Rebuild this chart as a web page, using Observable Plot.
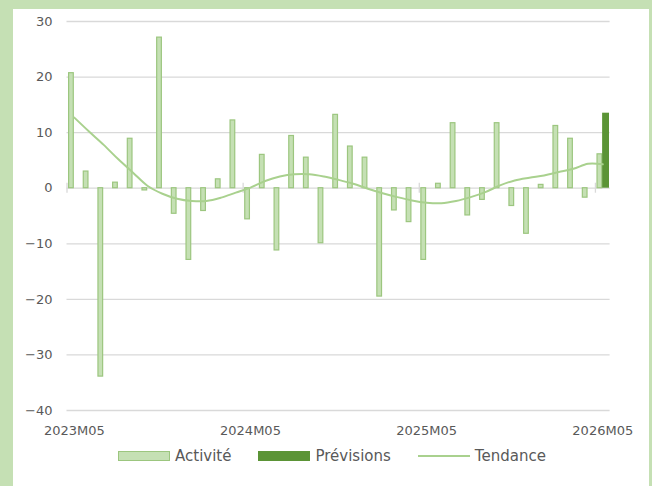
<!DOCTYPE html>
<html>
<head>
<meta charset="utf-8">
<script src="https://cdn.jsdelivr.net/npm/d3@7"></script>
<script src="https://cdn.jsdelivr.net/npm/@observablehq/plot@0.6"></script>
<style>
  html, body { margin: 0; padding: 0; }
  body { width: 652px; height: 486px; background: #c5e0b4; position: relative; overflow: hidden; font-family: "DejaVu Sans", sans-serif; }
  #panel { position: absolute; left: 13px; top: 9px; width: 636px; height: 477px; background: #ffffff; }
  #chart { position: absolute; left: 0; top: 0; }
  #legend { position: absolute; left: 118px; top: 447px; display: flex; align-items: center; font-size: 15px; color: #595959; white-space: nowrap; }
  .item { display: flex; align-items: center; margin-right: 27px; }
  .sw { width: 52px; height: 10px; margin-right: 5px; box-sizing: border-box; }
  .ln { width: 52px; height: 2px; margin-right: 5px; background: #a9d18e; }
</style>
</head>
<body>
<div id="panel"></div>
<div id="chart"></div>
<div id="legend">
  <div class="item"><div class="sw" style="background:#c5e0b4;border:1px solid #9cc67f"></div><span>Activité</span></div>
  <div class="item"><div class="sw" style="background:#5b9436"></div><span>Prévisions</span></div>
  <div class="item"><div class="ln"></div><span>Tendance</span></div>
</div>
<script>
const months = ["2023M05","2023M06","2023M07","2023M08","2023M09","2023M10","2023M11","2023M12",
  "2024M01","2024M02","2024M03","2024M04","2024M05","2024M06","2024M07","2024M08","2024M09","2024M10",
  "2024M11","2024M12","2025M01","2025M02","2025M03","2025M04","2025M05","2025M06","2025M07","2025M08",
  "2025M09","2025M10","2025M11","2025M12","2026M01","2026M02","2026M03","2026M04","2026M05"];
const activite = [20.7, 3.0, -33.9, 1.0, 8.9, -0.4, 27.1, -4.6, -12.9, -4.1, 1.6, 12.2,
  -5.6, 6.0, -11.2, 9.4, 5.5, -9.9, 13.2, 7.5, 5.5, -19.5, -4.0, -6.1,
  -12.9, 0.8, 11.7, -4.9, -2.1, 11.7, -3.2, -8.2, 0.6, 11.2, 8.9, -1.7, 6.1];
const previsions = [null,null,null,null,null,null,null,null,null,null,null,null,
  null,null,null,null,null,null,null,null,null,null,null,null,
  null,null,null,null,null,null,null,null,null,null,null,null,13.5];
const tendance = [12.7, 10.2, 7.8, 5.2, 2.8, 0.4, -1.0, -1.9, -2.3, -2.3, -1.7, -0.8,
  0.1, 1.3, 2.1, 2.5, 2.5, 2.1, 1.5, 0.8, -0.1, -0.9, -1.6, -2.2,
  -2.6, -2.7, -2.3, -1.6, -0.7, 0.5, 1.4, 1.9, 2.3, 2.9, 3.5, 4.4, 4.3];
const xTickLabels = ["2023M05","2024M05","2025M05","2026M05"];
const yTicks = [-40,-30,-20,-10,0,10,20,30];

const W = 652, H = 445, mL = 66.5, mR = 42.4, mT = 21, mB = 35;
const step = (W - mL - mR) / months.length;

const rows = months.map((m, i) => ({month: m, act: activite[i], prev: previsions[i], trend: tendance[i]}));

const chart = Plot.plot({
  width: W, height: H,
  marginLeft: mL, marginRight: mR, marginTop: mT, marginBottom: mB,
  style: {background: "transparent", fontFamily: "DejaVu Sans, sans-serif", fontSize: "13px", color: "#595959"},
  x: {domain: months, padding: 0, round: false, axis: null},
  y: {domain: [-40, 30], axis: null},
  marks: [
    Plot.ruleY(yTicks, {stroke: "#d9d9d9", strokeWidth: 1.3}),
    Plot.ruleX(xTickLabels, {x: d => d, y1: 0, y2: 0, insetTop: -5, insetBottom: -5, dx: -step / 2, stroke: "#d9d9d9", strokeWidth: 1.3}),
    Plot.axisY({ticks: yTicks, tickSize: 0, tickPadding: 14.5, label: null, fontSize: 13}),
    Plot.axisX({ticks: xTickLabels, tickSize: 0, tickPadding: 15, label: null, fontSize: 13}),
    Plot.barY(rows, {x: "month", y: "act", fill: "#c5e0b4", stroke: "#9cc67f", strokeWidth: 1.2, insetLeft: 2.1, insetRight: 7.9}),
    Plot.barY(rows.filter(d => d.prev != null), {x: "month", y: "prev", fill: "#5b9436", insetLeft: 7.2, insetRight: 0.6}),
    Plot.lineY(rows, {x: "month", y: "trend", stroke: "#a9d18e", strokeWidth: 2, curve: "catmull-rom"})
  ]
});
document.getElementById("chart").appendChild(chart);
</script>
</body>
</html>
